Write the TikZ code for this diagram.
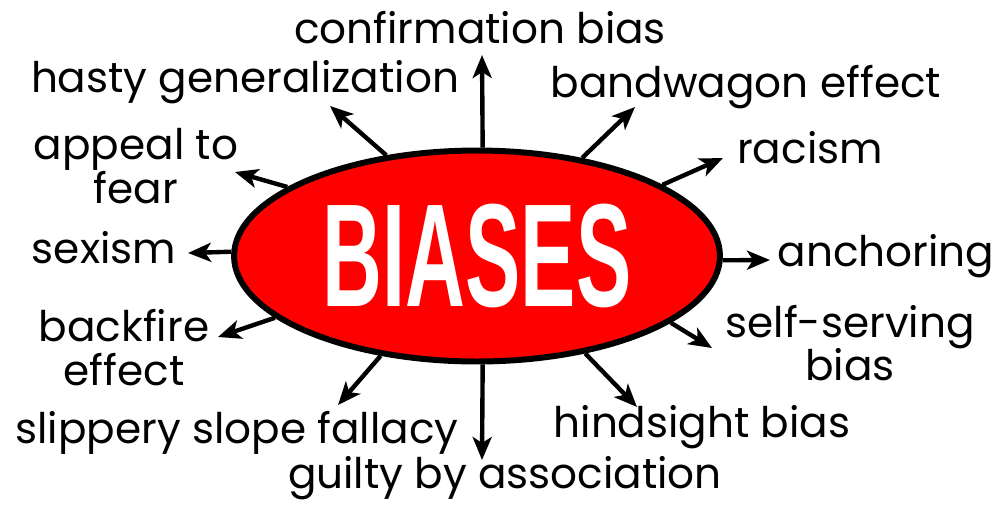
\documentclass[tikz,border=0pt]{standalone}
\usepackage{fontspec}
\setmainfont{Poppins}
\newfontfamily\titlefont{Liberation Sans}
\usetikzlibrary{arrows.meta,shapes.geometric}

\begin{document}
\begin{tikzpicture}[x=0.02cm,y=-0.02cm,
    bias/.style={font=\fontsize{24}{29}\selectfont, inner sep=0pt, align=center},
    pointer/.style={line width=2.5pt, -{Stealth[length=4.6mm,width=3.8mm,inset=1.2mm]}}]
  %%%%% START %%%%%
  \useasboundingbox (0,0) rectangle (1000,512);

  \node[ellipse, draw=black, line width=3.4pt, fill=red, inner sep=0pt,
    minimum width=9.72cm, minimum height=4.22cm] (biases) at (477,256)
    {\titlefont\bfseries\color{white}\scalebox{0.565}[1]{\fontsize{83.5}{90}\selectfont BIASES}};

  % arrow tips
  \coordinate (confirmationtip) at (482,55);
  \coordinate (hastytip) at (330,106);
  \coordinate (appealtip) at (235,172);
  \coordinate (sexismtip) at (188,253);
  \coordinate (backfiretip) at (218,337);
  \coordinate (slipperytip) at (338,405);
  \coordinate (guiltytip) at (482,460);
  \coordinate (hindsighttip) at (637,407);
  \coordinate (selfservingtip) at (712,348);
  \coordinate (anchoringtip) at (770,260);
  \coordinate (racismtip) at (723,158);
  \coordinate (bandwagontip) at (635,107);

  \draw[pointer] (biases.87) -- (confirmationtip);
  \draw[pointer] (biases.132) -- (hastytip);
  \draw[pointer] (biases.160) -- (appealtip);
  \draw[pointer] (biases.179) -- (sexismtip);
  \draw[pointer] (biases.197) -- (backfiretip);
  \draw[pointer] (biases.226) -- (slipperytip);
  \draw[pointer] (biases.273) -- (guiltytip);
  \draw[pointer] (biases.318) -- (hindsighttip);
  \draw[pointer] (biases.341) -- (selfservingtip);
  \draw[pointer] (biases.359) -- (anchoringtip);
  \draw[pointer] (biases.21) -- (racismtip);
  \draw[pointer] (biases.43) -- (bandwagontip);

  % labels (multi-line ones sit on their last baseline)
  \node[bias, anchor=base] (confirmation) at (480,43) {confirmation bias};
  \node[bias, anchor=base] (hasty) at (245,92) {hasty generalization};
  \node[bias, anchor=base] (appeal) at (136,203) {appeal to\\[-4pt]fear};
  \node[bias, anchor=base] (sexism) at (104,263) {sexism};
  \node[bias, anchor=base] (backfire) at (124,385) {backfire\\[-4pt]effect};
  \node[bias, anchor=base] (slippery) at (237,443) {slippery slope fallacy};
  \node[bias, anchor=base] (guilty) at (505,488) {guilty by association};
  \node[bias, anchor=base] (hindsight) at (702,437) {hindsight bias};
  \node[bias, anchor=base] (selfserving) at (850,380) {self-serving\\[-5pt]bias};
  \node[bias, anchor=base] (anchoring) at (886,266) {anchoring};
  \node[bias, anchor=base] (racism) at (810,163) {racism};
  \node[bias, anchor=base] (bandwagon) at (746,97) {bandwagon effect};
  %%%%% END %%%%%
\end{tikzpicture}
\end{document}
